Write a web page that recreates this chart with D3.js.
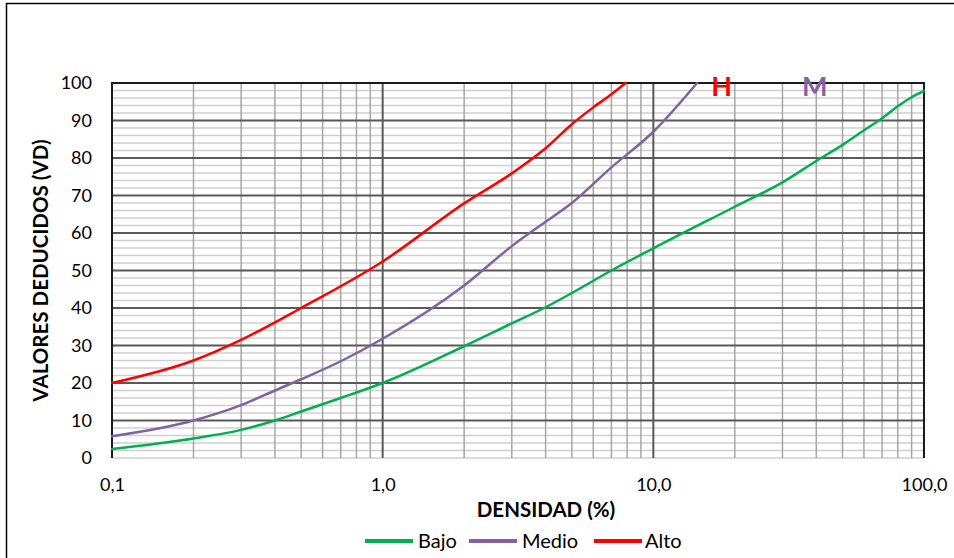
<!DOCTYPE html>
<html>
<head>
<meta charset="utf-8">
<script src="https://cdn.jsdelivr.net/npm/d3@7"></script>
<style>
  html, body { margin: 0; padding: 0; background: #fff; }
  svg { display: block; }
  text { font-family: Lato, "Open Sans", sans-serif; fill: #000; }
</style>
</head>
<body>
<svg id="chart" width="954" height="558"></svg>
<script>
// ---- data ----
const seriesNames = ["Bajo", "Medio", "Alto"];
const seriesColors = ["#00b050", "#8064a2", "#ff0000"];

const bajoX = [0.1,0.2,0.3,0.4,0.5,0.7,1,2,3,4,5,7,10,20,30,40,50,60,70,80,90,100];
const bajoY = [2.4,5.2,7.5,10,12.4,16,20,29.8,35.9,40.2,44,50,55.9,67,73.5,79.2,83.5,87.4,90.6,93.8,96.2,97.9];

const medioX = [0.1,0.2,0.3,0.4,0.5,0.7,1,2,3,4,5,7,10,14.5];
const medioY = [5.8,10,14.1,18,21,25.8,31.8,46,56.5,63,68,77.5,87,100];

const altoX = [0.1,0.2,0.3,0.5,1,2,3,4,5,6,7,7.9];
const altoY = [20,26,31.5,40,52.4,67.9,75.9,82.6,89,93.5,97,100];

const xTickValues = [0.1, 1, 10, 100];
const xTickLabels = ["0,1", "1,0", "10,0", "100,0"];
const yTickValues = [0,10,20,30,40,50,60,70,80,90,100];

const xTitle = "DENSIDAD (%)";
const yTitle = "VALORES DEDUCIDOS (VD)";
const curveLabels = [{text: "H", x: 17.9, color: "#ff0000"}, {text: "M", x: 39.5, color: "#8064a2"}];

// ---- layout ----
const svg = d3.select("#chart");
const pL = 112, pR = 924, pT = 83, pB = 458;

const x = d3.scaleLog().domain([0.1, 100]).range([pL, pR]);
const y = d3.scaleLinear().domain([0, 100]).range([pB, pT]);

// outer frame
svg.append("rect").attr("x", 6.5).attr("y", 3.5).attr("width", 1000).attr("height", 1000)
  .attr("fill", "none").attr("stroke", "#000").attr("stroke-width", 1.5);

const grid = svg.append("g");

// minor horizontal every 2
d3.range(0, 101, 2).filter(v => v % 10 !== 0 || v === 0).forEach(v => {
  grid.append("line").attr("x1", pL).attr("x2", pR).attr("y1", y(v)).attr("y2", y(v))
    .attr("stroke", "#cfcfcf").attr("stroke-width", 1.5);
});
// minor vertical
const minorX = [];
[0.1, 1, 10].forEach(d => { for (let k = 2; k <= 9; k++) minorX.push(d * k); });
minorX.forEach(v => {
  grid.append("line").attr("x1", x(v)).attr("x2", x(v)).attr("y1", pT).attr("y2", pB)
    .attr("stroke", "#a6a6a6").attr("stroke-width", 1.5);
});
// major horizontal
yTickValues.filter(v => v > 0 && v < 100).forEach(v => {
  grid.append("line").attr("x1", pL).attr("x2", pR).attr("y1", y(v)).attr("y2", y(v))
    .attr("stroke", "#595959").attr("stroke-width", 2);
});
// major vertical
[1, 10].forEach(v => {
  grid.append("line").attr("x1", x(v)).attr("x2", x(v)).attr("y1", pT).attr("y2", pB)
    .attr("stroke", "#595959").attr("stroke-width", 2);
});
// plot border: left, top, right dark
grid.append("path")
  .attr("d", `M${pL},${pB}V${pT}H${pR}V${pB}`)
  .attr("fill", "none").attr("stroke", "#1a1a1a").attr("stroke-width", 2);

// axes (labels only)
const yAxis = d3.axisLeft(y).tickValues(yTickValues).tickSize(0).tickPadding(20);
const gy = svg.append("g").attr("transform", `translate(${pL},0)`).call(yAxis);
gy.select(".domain").remove();
gy.selectAll("text").attr("font-size", 18).attr("font-family", "Lato, sans-serif").attr("fill", "#000");

const xAxis = d3.axisBottom(x).tickValues(xTickValues).tickFormat((d, i) => xTickLabels[i]).tickSize(0).tickPadding(20);
const gx = svg.append("g").attr("transform", `translate(0,${pB})`).call(xAxis);
gx.select(".domain").remove();
gx.selectAll("text").attr("font-size", 18).attr("font-family", "Lato, sans-serif").attr("fill", "#000");

// series
const seriesData = [
  bajoX.map((v, i) => [v, bajoY[i]]),
  medioX.map((v, i) => [v, medioY[i]]),
  altoX.map((v, i) => [v, altoY[i]])
];
const line = d3.line().x(d => x(d[0])).y(d => y(d[1])).curve(d3.curveMonotoneX);
seriesData.forEach((data, i) => {
  svg.append("path").datum(data).attr("d", line)
    .attr("fill", "none").attr("stroke", seriesColors[i]).attr("stroke-width", 2.5)
    .attr("stroke-linejoin", "round").attr("stroke-linecap", "round");
});

// curve labels
curveLabels.forEach(c => {
  svg.append("text").attr("x", x(c.x)).attr("y", 96).attr("text-anchor", "middle")
    .attr("font-size", 27).attr("font-weight", "bold").style("fill", c.color).text(c.text);
});

// titles
svg.append("text").attr("x", 546).attr("y", 517).attr("text-anchor", "middle")
  .attr("font-size", 20.5).attr("font-weight", "bold").text(xTitle);
svg.append("text").attr("transform", `translate(48,${(pT + pB) / 2}) rotate(-90)`)
  .attr("text-anchor", "middle").attr("font-size", 20.5).attr("font-weight", "bold").text(yTitle);

// legend
const legendItems = [{lx: 365, tx: 418}, {lx: 469, tx: 522}, {lx: 594, tx: 645}];
seriesNames.forEach((name, i) => {
  const it = legendItems[i];
  svg.append("line").attr("x1", it.lx).attr("x2", it.lx + 48).attr("y1", 541).attr("y2", 541)
    .attr("stroke", seriesColors[i]).attr("stroke-width", 4);
  svg.append("text").attr("x", it.tx).attr("y", 548).attr("font-size", 20).text(name);
});
</script>
</body>
</html>
